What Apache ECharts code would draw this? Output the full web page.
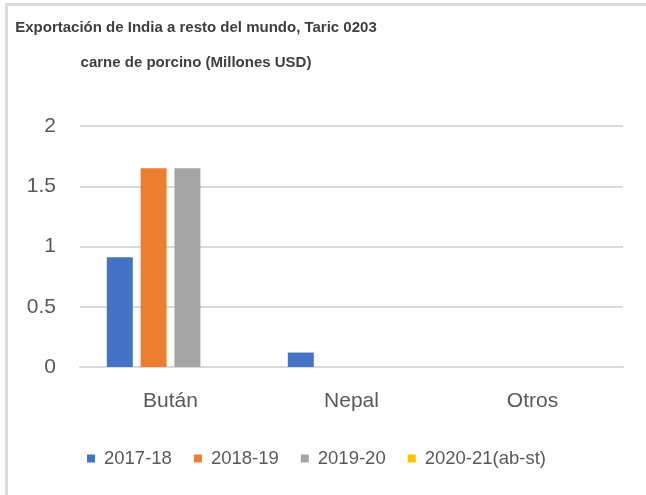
<!DOCTYPE html>
<html>
<head>
<meta charset="utf-8">
<script src="https://cdn.jsdelivr.net/npm/echarts@6/dist/echarts.min.js"></script>
<style>
  html, body { margin: 0; padding: 0; background: #fff; }
  #wrap { position: relative; width: 646px; height: 495px; }
  #chart { width: 646px; height: 495px; }
  /* marco gris arriba e izquierda */
  #wrap:after {
    content: ""; position: absolute; left: 5px; top: 3px; right: 0; bottom: 0;
    border-top: 3px solid #dcdcdc; border-left: 3px solid #dcdcdc; pointer-events: none;
  }
</style>
</head>
<body>
<div id="wrap"><div id="chart"></div></div>
<script>
var categorias = ["Bután", "Nepal", "Otros"];
var serie1718 = [0.91, 0.12, 0];
var serie1819 = [1.65, 0, 0];
var serie1920 = [1.65, 0, 0];
var serie2021 = [0, 0, 0];
var nombres = ["2017-18", "2018-19", "2019-20", "2020-21(ab-st)"];
var colores = ["#4472C4", "#ED7D31", "#A5A5A5", "#FFC000"];

var fuente = "'Liberation Sans', Arial, sans-serif";
var valores = [serie1718, serie1819, serie1920, serie2021];

var chart = echarts.init(document.getElementById("chart"));

var option = {
  animation: false,
  title: {
    text: "Exportación de India a resto del mundo, Taric 0203\ncarne de porcino (Millones USD)",
    left: 191,
    top: 5,
    textAlign: "center",
    textStyle: {
      fontFamily: fuente,
      fontSize: 15,
      fontWeight: "bold",
      color: "#3f3f3f",
      lineHeight: 35,
    },
  },
  legend: {
    data: nombres,
    left: 82,
    top: 444,
    itemWidth: 8,
    itemHeight: 8,
    itemGap: 22,
    icon: "rect",
    textStyle: { fontFamily: fuente, fontSize: 18.5, color: "#595959", padding: [0, 0, 0, 4] },
  },
  grid: { left: 80, right: 23, top: 126, bottom: 128 },
  xAxis: {
    type: "category",
    data: categorias,
    axisLine: { lineStyle: { color: "#d9d9d9", width: 2 } },
    axisTick: { show: false },
    axisLabel: { fontFamily: fuente, fontSize: 21, color: "#595959", margin: 24 },
  },
  yAxis: {
    type: "value",
    min: 0,
    max: 2,
    interval: 0.5,
    axisLine: { show: false },
    axisTick: { show: false },
    axisLabel: { fontFamily: fuente, fontSize: 21, color: "#595959", margin: 24 },
    splitLine: { lineStyle: { color: "#d9d9d9", width: 2 } },
  },
  series: nombres.map(function (n, i) {
    return {
      name: n,
      type: "bar",
      data: valores[i],
      barWidth: 26,
      barGap: "30%",
      itemStyle: { color: colores[i] },
    };
  }),
};

chart.setOption(option);
</script>
</body>
</html>
